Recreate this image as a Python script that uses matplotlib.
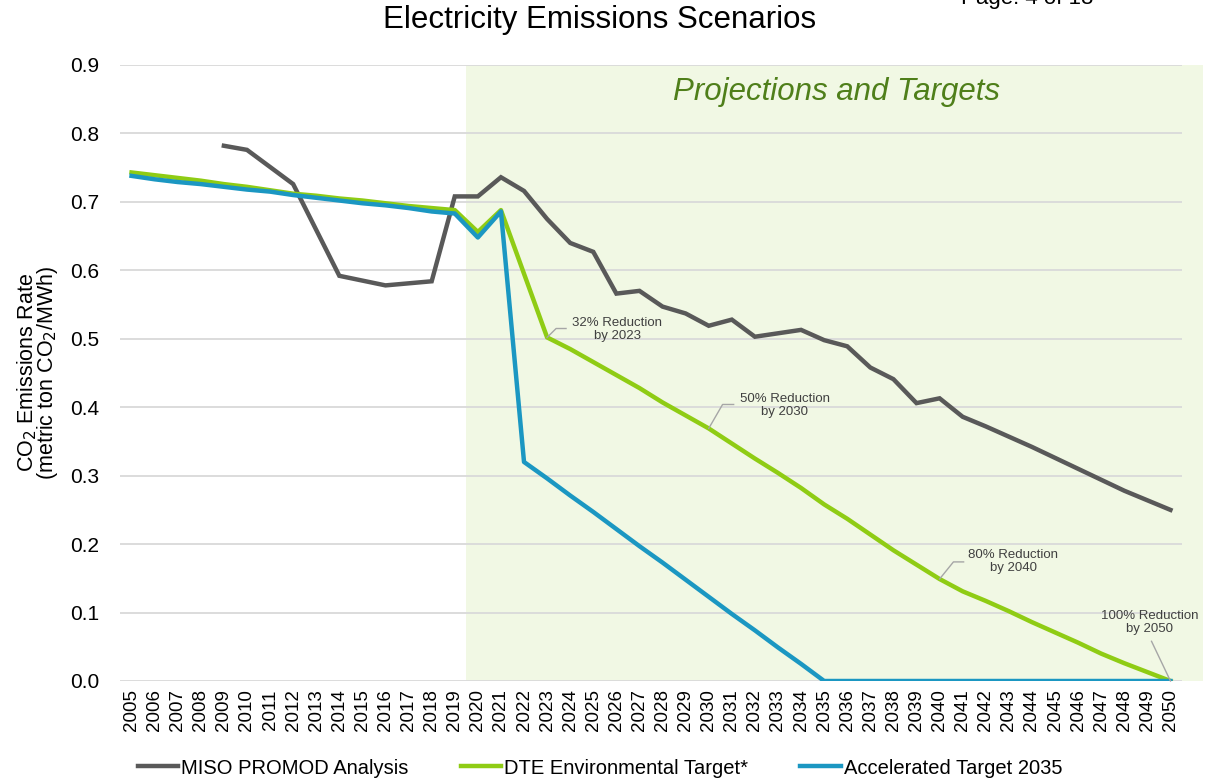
import numpy as np
import matplotlib.pyplot as plt
from matplotlib.patches import Rectangle

# years on the category axis
years = list(range(2005, 2051))

# MISO PROMOD analysis (starts in 2009)
miso_years = list(range(2009, 2051))
miso = [0.782, 0.776, 0.751, 0.726, 0.659, 0.592, 0.585, 0.578, 0.581, 0.584,
        0.708, 0.708, 0.736, 0.716, 0.675, 0.640, 0.627, 0.566, 0.570, 0.547,
        0.537, 0.519, 0.528, 0.503, 0.508, 0.513, 0.498, 0.489, 0.458, 0.441,
        0.406, 0.413, 0.386, 0.372, 0.357, 0.342, 0.326, 0.310, 0.294, 0.278,
        0.264, 0.250]

# DTE environmental target
dte = [0.743, 0.739, 0.735, 0.731, 0.726, 0.722, 0.717, 0.712, 0.709, 0.705,
       0.702, 0.698, 0.694, 0.691, 0.688, 0.656, 0.688, 0.595, 0.502, 0.485,
       0.466, 0.447, 0.428, 0.407, 0.388, 0.369, 0.347, 0.325, 0.304, 0.282,
       0.258, 0.237, 0.214, 0.191, 0.170, 0.149, 0.131, 0.117, 0.102, 0.086,
       0.071, 0.056, 0.040, 0.026, 0.013, 0.000]

# accelerated target 2035
accel = [0.738, 0.733, 0.729, 0.726, 0.722, 0.718, 0.715, 0.710, 0.706, 0.702,
         0.698, 0.695, 0.691, 0.686, 0.683, 0.648, 0.686, 0.320, 0.296, 0.271,
         0.247, 0.222, 0.197, 0.173, 0.148, 0.123, 0.098, 0.074, 0.049, 0.025,
         0.000, 0.000, 0.000, 0.000, 0.000, 0.000, 0.000, 0.000, 0.000, 0.000,
         0.000, 0.000, 0.000, 0.000, 0.000, 0.000]

# milestone call-outs on the DTE line: (year, label)
milestones = [(2023, "32% Reduction\nby 2023"),
              (2030, "50% Reduction\nby 2030"),
              (2040, "80% Reduction\nby 2040"),
              (2050, "100% Reduction\nby 2050")]

GRAY = "#595959"
GREEN = "#8fcc14"
BLUE = "#1b97c2"
SHADE = "#f1f8e4"
ANN = "#404040"

plt.rcParams["font.family"] = ["Liberation Sans", "DejaVu Sans"]

fig = plt.figure(figsize=(12.2, 7.8), dpi=100)
ax = fig.add_axes([120 / 1220, 1 - 681 / 780, 1062 / 1220, 616 / 780])

ax.set_xlim(2004.5, 2050.5)
ax.set_ylim(0, 0.9)

# projections area, runs a bit past the plot edge
ax.add_patch(Rectangle((2019.5, 0), 31.9, 0.9, facecolor=SHADE,
                       edgecolor="none", clip_on=False, zorder=0))
ax.text(2035.55, 0.86, "Projections and Targets", fontsize=22.5,
        style="italic", color="#4f7f1a", ha="center", va="center", zorder=3)

ax.set_yticks(np.arange(0, 0.91, 0.1))
ax.set_yticklabels([f"{v:.1f}" for v in np.arange(0, 0.91, 0.1)], fontsize=15)
ax.yaxis.grid(True, color="#d9d9d9", lw=1.3, zorder=1)
ax.set_axisbelow(True)
ax.set_xticks(years)
ax.set_xticklabels([str(y) for y in years], rotation=90, fontsize=13.5)
ax.tick_params(length=0, pad=6)
ax.tick_params(axis="y", pad=15)
for s in ax.spines.values():
    s.set_visible(False)

ax.plot(miso_years, miso, color=GRAY, lw=3.2, solid_joinstyle="miter",
        label="MISO PROMOD Analysis", zorder=4)
ax.plot(years, dte, color=GREEN, lw=3.2, label="DTE Environmental Target*",
        zorder=5)
ax.plot(years, accel, color=BLUE, lw=3.2, label="Accelerated Target 2035",
        zorder=6)

# leader lines and labels for the milestones
offsets = {2023: ((0.39, 0.013), (0.82, 0.013), (3.03, 0.011)),
           2030: ((0.6, 0.035), (1.08, 0.035), (3.3, 0.034)),
           2040: ((0.6, 0.025), (1.04, 0.025), (3.2, 0.026)),
           2050: ((-0.82, 0.058), None, (-0.9, 0.086))}
for yr, label in milestones:
    v = dte[years.index(yr)]
    (ex, ey), end, (tx, ty) = offsets[yr]
    xs = [yr, yr + ex]
    ys = [v, v + ey]
    if end is not None:
        xs.append(yr + end[0])
        ys.append(v + end[1])
    ax.plot(xs, ys, color="#a6a6a6", lw=1, zorder=7, clip_on=False)
    ax.text(yr + tx, v + ty, label, fontsize=9.5, color=ANN,
            ha="center", va="center", linespacing=1.1, zorder=8)

ax.set_ylabel("CO$_2$ Emissions Rate\n(metric ton CO$_2$/MWh)", fontsize=15.5,
              linespacing=0.75)
ax.yaxis.set_label_coords(-60 / 1062, 0.5)

fig.text(600 / 1220, 1 - 20 / 780, "Electricity Emissions Scenarios",
         fontsize=22.5, ha="center", va="center")
fig.text(1027 / 1220, 1 - 4 / 780, "Page: 4 of 18", fontsize=16,
         ha="center", va="baseline")

fig.legend(loc="center", bbox_to_anchor=(600 / 1220, 1 - 768 / 780), ncol=3,
           frameon=False, fontsize=14.5, handlelength=2.0, handletextpad=0.15,
           columnspacing=2.6)

fig.savefig("out.png", dpi=100)
